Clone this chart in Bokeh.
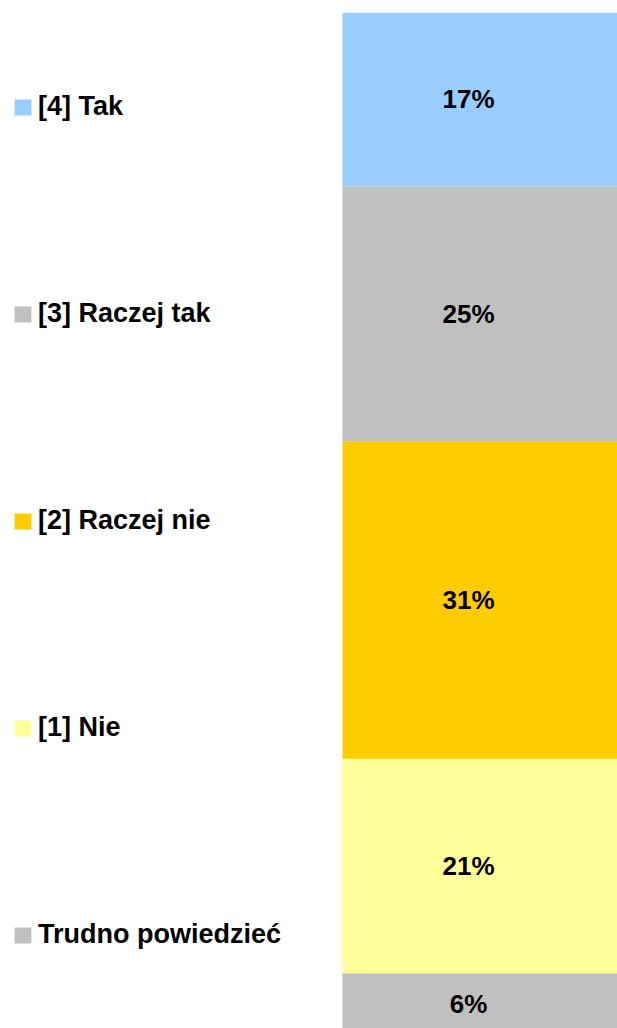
from bokeh.plotting import figure
from bokeh.models import Range1d, Legend, LegendItem, ColumnDataSource
from bokeh.core.properties import value
from bokeh.embed import file_html
from bokeh.resources import INLINE

# Data (stack order from bottom to top)
categories = ["Trudno powiedzieć", "[1] Nie", "[2] Raczej nie", "[3] Raczej tak", "[4] Tak"]
values = [6, 21, 31, 25, 17]
colors = ["#C0C0C0", "#FFFF99", "#FFCC00", "#C0C0C0", "#99CCFF"]
labels = [f"{v}%" for v in values]

W, H = 617, 1028
p = figure(width=W, height=H, output_backend="svg", toolbar_location=None,
           x_range=Range1d(0, 1), y_range=Range1d(0.6, 100),
           min_border_top=12, min_border_bottom=0, min_border_left=0, min_border_right=0)
p.axis.visible = False
p.grid.visible = False
p.outline_line_color = None
p.background_fill_color = "white"

bar_left = 342 / 617
bar_center = (bar_left + 1) / 2
bar_width = 1 - bar_left

data = {"x": [bar_center]}
for c, v in zip(categories, values):
    data[c] = [v]
src = ColumnDataSource(data)
renderers = p.vbar_stack(categories, x="x", width=bar_width, source=src,
                         color=colors, line_color=None)

# percentage labels
bottoms = []
acc = 0
for v in values:
    bottoms.append(acc)
    acc += v
mids = [b + v / 2 for b, v in zip(bottoms, values)]
lsrc = ColumnDataSource(dict(x=[468 / 617] * len(values), y=mids, t=labels))
p.text(x="x", y="y", text="t", source=lsrc, text_align="center", text_baseline="middle",
       text_font=value("Liberation Sans"), text_font_style="bold", text_font_size="26px",
       text_color="black")

items = [LegendItem(label=c, renderers=[r]) for c, r in zip(categories, renderers)][::-1]
legend = Legend(items=items, location=(12, 78), orientation="vertical",
                glyph_width=21, glyph_height=20, label_height=30, spacing=176,
                label_standoff=5, padding=0, margin=0,
                label_text_font="Liberation Sans", label_text_font_style="bold",
                label_text_font_size="27px", label_text_color="black",
                background_fill_alpha=0, border_line_color=None)
p.add_layout(legend, "center")

open("out.html", "w").write(file_html(p, INLINE))
